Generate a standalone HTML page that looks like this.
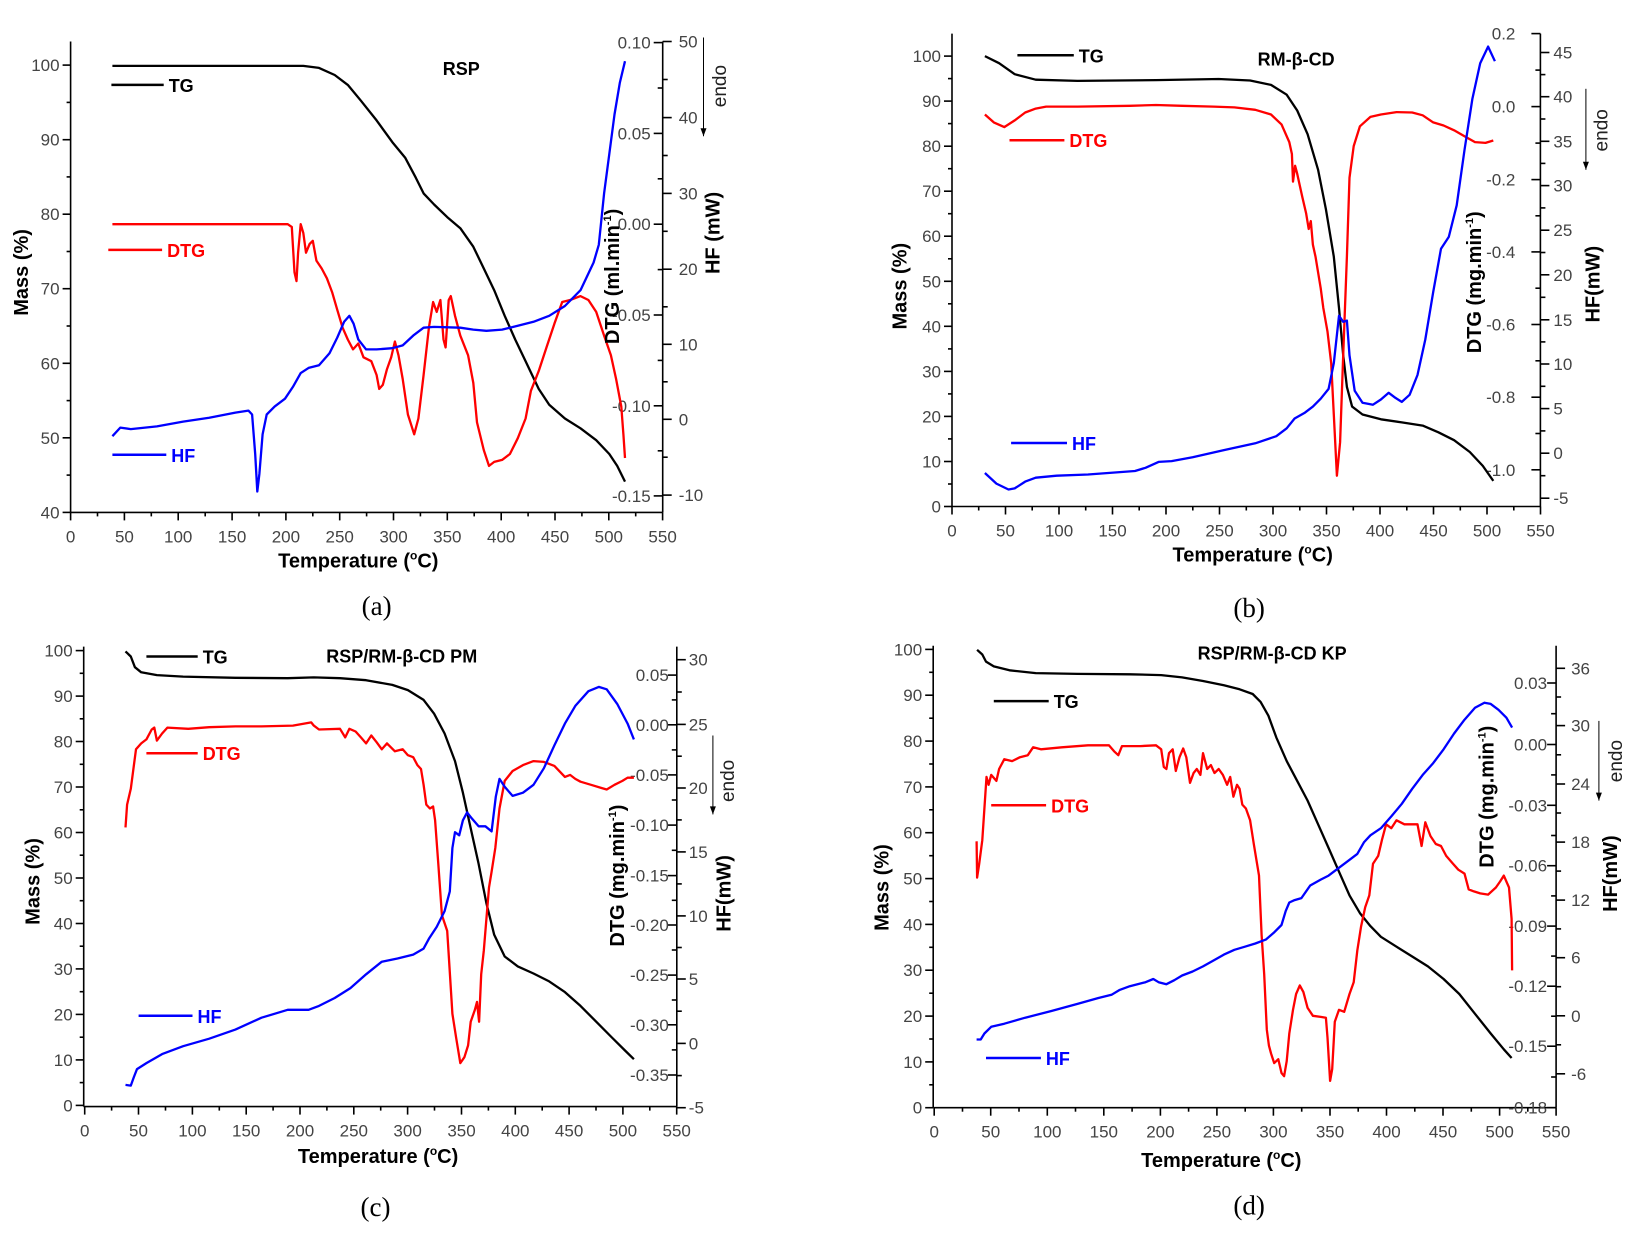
<!DOCTYPE html>
<html><head><meta charset="utf-8"><style>
html,body{margin:0;padding:0;background:#fff;}
svg{display:block;}
text{font-family:"Liberation Sans",Arial,sans-serif;}
</style></head><body>
<svg id="s" xmlns="http://www.w3.org/2000/svg" width="1632" height="1238" viewBox="0 0 1632 1238"></svg>
<script>
const S=[];const KX=1.912,KY=2.533;
function mk(ox,oy){return (x,y)=>[ox+x/KX,oy+y/KY];}
function f1(v){return v.toFixed(1);}
function line(a,b,w,c){S.push(`<line x1="${f1(a[0])}" y1="${f1(a[1])}" x2="${f1(b[0])}" y2="${f1(b[1])}" stroke="${c||'#000'}" stroke-width="${w||1.6}"/>`);}
function pl(f,arr,col){let p=[];for(let i=0;i<arr.length;i+=2){const q=f(arr[i],arr[i+1]);p.push(f1(q[0])+','+f1(q[1]));}
S.push(`<polyline fill="none" stroke="${col}" stroke-width="2.3" stroke-linejoin="round" points="${p.join(' ')}"/>`);}
function t(x,y,s,o){o=o||{};const a=o.a||'start',fs=o.fs||17,fw=o.b?'bold':'normal',c=o.c||'#444',r=o.r?` transform="rotate(-90 ${f1(x)} ${f1(y)})"`:'';const ff=o.serif?' style="font-family:\'Liberation Serif\',serif"':'';
S.push(`<text x="${f1(x)}" y="${f1(y)}" font-size="${fs}" font-weight="${fw}" fill="${c}" text-anchor="${a}"${r}${ff}>${s}</text>`);}
function panel(c){const f=mk(c.ox,c.oy);
 // axes
 line(f(c.L,c.top),f(c.L,c.bot));line(f(c.L,c.bot),f(c.R,c.bot));line(f(c.R,c.top),f(c.R,c.bot));
 for(let n=0;n<=22;n++){const x=c.x0+n*c.xs/2;const p=f(x,c.bot);line(p,[p[0],p[1]+(n%2?4:8)]);
  if(n%2==0){t(p[0],p[1]+30,String(n*25),{a:'middle',fs:17});}}
 for(let v=c.mmin;v<=100;v+=5){const y=c.y100+(100-v)*c.m10/10;const p=f(c.L,y);line(p,[p[0]-(v%10?4:8),p[1]]);
  if(v%10==0)t(p[0]-11,p[1]+6,String(v),{a:'end'});}
 c.dtg.forEach((d,i)=>{const p=f(c.R,d[0]);line(p,[p[0]-9,p[1]]);t(p[0]+c.dx,p[1]+6,d[1],{a:'end'});
  if(i<c.dtg.length-1){const q=f(c.R,(d[0]+c.dtg[i+1][0])/2);line(q,[q[0]-5,q[1]]);}});
 c.hf.forEach((d,i)=>{const p=f(c.R,d[0]);line(p,[p[0]+9,p[1]]);t(p[0]+c.hx,p[1]+6,d[1]);
  if(i<c.hf.length-1){const q=f(c.R,(d[0]+c.hf[i+1][0])/2);line(q,[q[0]+5,q[1]]);}});
 pl(f,c.tg,'#000');pl(f,c.dtgc,'#f00');pl(f,c.hfc,'#00f');
 // legend
 [['TG','#000',c.lg[0]],['DTG','#f00',c.lg[1]],['HF','#00f',c.lg[2]]].forEach(l=>{const a=f(l[2][0],l[2][2]),b=f(l[2][1],l[2][2]);line(a,b,2.5,l[1]);t(b[0]+5,b[1]+7,l[0],{b:1,fs:18,c:l[1]});});
 let p=f(c.title[0],c.title[1]);t(p[0],p[1]+7,c.title[2],{a:'middle',b:1,fs:18,c:'#000'});
 p=f(c.ml[0],c.ml[1]);t(p[0]+7,p[1],'Mass (%)',{a:'middle',b:1,fs:20,c:'#000',r:1});
 p=f(c.tl[0],c.tl[1]);t(p[0],p[1]+7,'Temperature (<tspan font-size="12" dy="-8">o</tspan><tspan dy="8">C)</tspan>',{a:'middle',b:1,fs:20,c:'#000'});
 p=f(c.dl[0],c.dl[1]);t(p[0]+7,p[1],c.dtxt+' (m'+c.unit+'.min<tspan font-size="11" dy="-8">-1</tspan><tspan dy="8">)</tspan>',{a:'middle',b:1,fs:20,c:'#000',r:1});
 p=f(c.hl[0],c.hl[1]);t(p[0]+7,p[1],c.htxt,{a:'middle',b:1,fs:20,c:'#000',r:1});
 p=f(c.en[0],c.en[1]);t(p[0]+7,p[1],'endo',{a:'middle',fs:19,c:'#222',r:1});
 const a1=f(c.ar[0],c.ar[1]),a2=f(c.ar[0],c.ar[2]);line(a1,a2,1);S.push(`<polygon points="${f1(a2[0]-3)},${f1(a2[1]-8)} ${f1(a2[0]+3)},${f1(a2[1]-8)} ${f1(a2[0])},${f1(a2[1])}" fill="#000"/>`);
 p=f(c.lab[0],c.lab[1]);t(p[0],p[1]+9,c.lab[2],{a:'middle',fs:27,c:'#000',serif:1});
}
// panel a
panel({ox:0,oy:0,L:135,R:1267,top:105,bot:1298,x0:135,xs:102.9,mmin:40,y100:165,m10:188.8,
dtg:[[108,'0.10'],[338,'0.05'],[568,'0.00'],[798,'-0.05'],[1028,'-0.10'],[1256,'-0.15']],dx:-12,
hf:[[105,'50'],[298,'40'],[490,'30'],[682,'20'],[872,'10'],[1062,'0'],[1254,'-10']],hx:16,
tg:[215,167,580,167,610,172,640,190,665,215,690,255,720,305,750,360,775,400,795,450,810,490,830,518,855,550,880,578,905,625,925,680,945,735,965,800,985,860,1005,915,1030,985,1050,1025,1080,1060,1110,1085,1140,1115,1165,1150,1180,1180,1195,1220],
dtgc:[215,568,550,568,558,575,563,690,567,712,570,640,575,568,580,590,585,640,592,618,598,610,605,660,615,680,625,705,635,740,645,785,655,830,665,860,675,885,685,870,695,905,710,915,720,950,725,985,732,975,740,935,748,905,755,865,762,900,770,960,780,1050,792,1100,800,1060,810,950,820,830,828,765,835,790,842,760,848,860,852,880,858,760,862,750,870,800,880,850,895,900,905,970,912,1070,925,1140,935,1180,945,1170,960,1165,975,1150,990,1110,1005,1060,1015,990,1030,940,1045,880,1060,820,1075,765,1090,760,1110,750,1125,760,1140,790,1155,850,1168,900,1178,960,1188,1030,1192,1100,1195,1160],
hfc:[215,1105,230,1083,250,1087,300,1080,350,1068,400,1058,450,1045,475,1040,482,1050,488,1150,492,1245,496,1200,502,1100,510,1050,525,1030,545,1010,560,980,575,945,590,932,610,925,630,895,645,855,658,815,668,800,676,820,685,860,700,885,720,885,750,882,770,875,790,850,810,830,830,828,880,830,905,835,930,838,960,835,990,825,1020,815,1050,800,1080,775,1110,735,1135,665,1145,620,1155,490,1165,390,1175,290,1185,210,1195,155],
lg:[[213,313,215],[207,310,633],[215,318,1152]],title:[882,172,'RSP'],ml:[40,690],tl:[685,1420],dl:[1170,700],dtxt:'DTG',unit:'l',hl:[1362,590],htxt:'HF (mW)',en:[1375,218],ar:[1345,95,345],lab:[720,1535,'(a)']});
// panel b
panel({ox:816,oy:0,L:260,R:1385,top:85,bot:1283,x0:260,xs:102.3,mmin:0,y100:142,m10:114.1,
dtg:[[85,'0.2'],[270,'0.0'],[455,'-0.2'],[638,'-0.4'],[822,'-0.6'],[1006,'-0.8'],[1190,'-1.0']],dx:-25,
hf:[[133,'45'],[245,'40'],[358,'35'],[470,'30'],[583,'25'],[696,'20'],[810,'15'],[922,'10'],[1035,'5'],[1148,'0'],[1262,'-5']],hx:13,
tg:[323,142,350,160,380,188,420,202,500,205,650,203,770,200,830,204,870,215,900,240,920,280,940,340,960,430,975,530,990,650,1000,780,1008,900,1015,980,1025,1030,1045,1050,1080,1062,1120,1070,1160,1078,1190,1095,1220,1115,1250,1145,1275,1180,1295,1218],
dtgc:[323,290,340,310,360,322,380,305,400,285,420,275,440,270,500,270,600,268,650,266,700,268,760,270,800,272,840,278,870,290,890,315,905,360,910,390,912,460,916,420,920,440,925,470,930,500,937,540,942,580,946,560,950,620,955,650,960,690,965,730,970,780,978,840,985,920,990,1050,996,1205,1002,1120,1008,900,1015,650,1020,450,1028,370,1040,320,1060,296,1080,290,1110,284,1140,285,1160,292,1180,310,1200,318,1220,330,1240,345,1260,360,1280,362,1295,356],
hfc:[323,1198,345,1225,368,1240,380,1237,400,1220,420,1210,460,1205,520,1202,610,1193,630,1185,655,1170,680,1168,720,1158,780,1140,840,1123,880,1105,900,1085,915,1060,935,1045,950,1030,965,1010,980,985,990,920,1000,800,1008,815,1015,812,1020,900,1030,990,1045,1020,1065,1025,1080,1012,1095,995,1108,1008,1120,1018,1135,1000,1150,950,1165,860,1180,740,1195,630,1210,600,1225,520,1240,380,1255,250,1270,160,1285,118,1298,155],
lg:[[385,493,140],[370,475,355],[373,480,1122]],title:[918,148,'RM-β-CD'],ml:[160,725],tl:[835,1405],dl:[1258,715],dtxt:'DTG',unit:'g',hl:[1485,720],htxt:'HF(mW)',en:[1500,330],ar:[1472,225,430],lab:[828,1540,'(b)']});
// panel c
panel({ox:0,oy:619,L:160,R:1294,top:70,bot:1235,x0:162,xs:102.9,mmin:0,y100:80,m10:115.2,
dtg:[[142,'0.05'],[268,'0.00'],[395,'-0.05'],[522,'-0.10'],[650,'-0.15'],[775,'-0.20'],[902,'-0.25'],[1028,'-0.30'],[1155,'-0.35']],dx:-8,
hf:[[103,'30'],[267,'25'],[428,'20'],[590,'15'],[752,'10'],[912,'5'],[1075,'0'],[1238,'-5']],hx:12,
tg:[240,82,250,95,258,122,270,135,300,142,350,146,450,149,550,150,600,148,650,150,700,155,750,167,780,180,810,205,830,240,850,290,870,360,885,440,900,530,915,620,930,720,945,800,965,855,990,880,1020,898,1050,918,1080,945,1110,980,1140,1020,1170,1060,1195,1093,1212,1115],
dtgc:[240,528,243,470,250,430,255,380,260,330,270,315,280,305,290,280,295,275,300,308,310,290,320,275,360,278,400,274,450,272,500,272,560,270,595,262,600,270,610,280,650,278,660,300,668,278,680,285,690,300,700,315,710,295,720,312,730,330,740,315,755,335,770,330,780,345,790,350,798,370,805,380,810,420,815,470,822,480,828,475,832,510,838,620,845,750,855,790,858,850,865,1000,872,1060,880,1125,888,1110,895,1080,900,1020,908,990,912,970,916,1020,920,900,925,840,930,760,935,680,940,640,947,580,955,480,965,410,980,385,1000,370,1020,360,1040,362,1060,372,1080,400,1090,395,1100,405,1110,412,1130,420,1150,428,1160,432,1175,420,1190,410,1200,402,1212,402],
hfc:[240,1180,250,1182,256,1160,262,1140,280,1125,310,1102,350,1082,400,1063,450,1040,500,1010,550,990,590,990,610,980,640,960,670,935,700,900,730,868,760,860,790,850,810,835,820,810,835,780,850,740,860,690,865,580,870,540,878,548,885,510,893,490,902,505,915,525,928,525,940,538,948,450,955,405,965,425,980,448,1000,440,1020,420,1040,378,1060,320,1080,265,1100,220,1125,183,1145,172,1160,178,1180,215,1200,265,1212,305],
lg:[[280,378,95],[280,378,340],[265,368,1005]],title:[768,92,'RSP/RM-β-CD PM'],ml:[62,665],tl:[723,1360],dl:[1180,650],dtxt:'DTG',unit:'g',hl:[1383,695],htxt:'HF(mW)',en:[1390,410],ar:[1363,295,495],lab:[718,1490,'(c)']});
// panel d
panel({ox:816,oy:619,L:224,R:1415,top:68,bot:1238,x0:226,xs:108.1,mmin:0,y100:77,m10:116.1,
dtg:[[162,'0.03'],[318,'0.00'],[472,'-0.03'],[625,'-0.06'],[778,'-0.09'],[930,'-0.12'],[1082,'-0.15'],[1238,'-0.18']],dx:-9,
hf:[[125,'36'],[270,'30'],[418,'24'],[565,'18'],[712,'12'],[858,'6'],[1005,'0'],[1152,'-6']],hx:15,
tg:[308,78,318,90,325,108,340,120,370,130,420,137,500,139,600,140,660,142,700,148,740,157,780,168,810,178,835,190,850,210,865,245,880,300,900,360,920,410,940,460,960,520,980,580,1000,640,1020,700,1040,745,1060,778,1080,805,1110,830,1140,855,1170,880,1200,912,1230,950,1260,1000,1290,1050,1315,1090,1330,1112],
dtgc:[307,563,308,655,312,620,318,560,322,480,326,400,330,420,335,395,345,410,350,380,360,355,375,360,390,350,405,345,415,325,430,330,470,325,520,320,560,320,570,335,578,345,585,322,620,322,650,320,660,330,665,375,670,380,675,340,682,330,688,385,695,350,702,328,708,350,715,415,722,390,728,380,735,395,740,340,748,380,755,370,762,390,770,380,778,395,786,420,792,400,798,450,805,420,810,430,815,470,822,480,830,510,837,570,842,610,847,650,852,800,857,900,862,1040,866,1080,870,1100,876,1125,884,1115,890,1150,895,1158,900,1120,905,1050,912,990,918,950,925,928,932,945,940,985,950,1005,965,1008,975,1010,978,1060,983,1170,987,1140,992,1020,1000,990,1010,995,1020,950,1028,920,1035,840,1042,780,1050,730,1058,700,1065,620,1075,600,1082,560,1090,520,1100,530,1110,510,1125,520,1140,520,1150,520,1158,575,1165,515,1175,550,1185,570,1195,575,1205,600,1218,620,1228,635,1240,645,1248,685,1258,690,1270,695,1285,698,1300,680,1308,665,1315,650,1325,680,1330,760,1331,890],
hfc:[307,1065,315,1065,322,1050,335,1033,360,1025,400,1010,450,993,500,975,540,960,565,952,580,940,600,930,630,920,645,912,655,920,670,925,685,915,700,903,720,893,740,880,760,865,780,850,800,838,820,830,840,822,860,812,875,795,890,775,898,740,905,718,915,712,928,707,945,675,965,660,980,650,995,635,1015,615,1035,595,1048,565,1060,548,1080,530,1100,500,1120,468,1140,430,1160,395,1180,365,1200,330,1220,290,1240,255,1260,225,1278,212,1290,215,1305,230,1320,250,1331,275],
lg:[[340,445,208],[335,440,472],[325,430,1112]],title:[872,85,'RSP/RM-β-CD KP'],ml:[125,680],tl:[775,1370],dl:[1282,450],dtxt:'DTG',unit:'g',hl:[1518,645],htxt:'HF(mW)',en:[1528,360],ar:[1497,258,460],lab:[828,1485,'(d)']});
document.getElementById('s').innerHTML=S.join('');
</script>
</body></html>
